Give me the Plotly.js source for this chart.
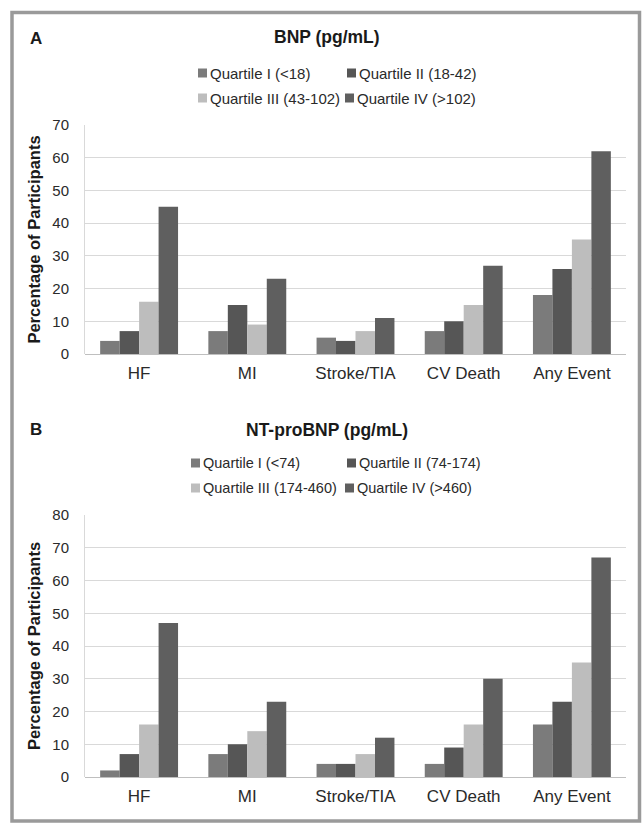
<!DOCTYPE html>
<html><head><meta charset="utf-8">
<script src="https://cdn.plot.ly/plotly-3.0.1.min.js"></script>
<style>html,body{margin:0;padding:0;background:#fff}#chart{width:643px;height:823px}</style>
</head><body><div id="chart"></div>
<script>
// ---- data ----
const categories = ['HF', 'MI', 'Stroke/TIA', 'CV Death', 'Any Event'];
const bnpQ1 = [4, 7, 5, 7, 18];
const bnpQ2 = [7, 15, 4, 10, 26];
const bnpQ3 = [16, 9, 7, 15, 35];
const bnpQ4 = [45, 23, 11, 27, 62];
const ntQ1 = [2, 7, 4, 4, 16];
const ntQ2 = [7, 10, 4, 9, 23];
const ntQ3 = [16, 14, 7, 16, 35];
const ntQ4 = [47, 23, 12, 30, 67];
const bnpLabels = ['Quartile I (<18)', 'Quartile II (18-42)', 'Quartile III (43-102)', 'Quartile IV (>102)'];
const ntLabels = ['Quartile I (<74)', 'Quartile II (74-174)', 'Quartile III (174-460)', 'Quartile IV (>460)'];
const yTicksA = [0, 10, 20, 30, 40, 50, 60, 70];
const yTicksB = [0, 10, 20, 30, 40, 50, 60, 70, 80];
const titleA = 'BNP (pg/mL)';
const titleB = 'NT-proBNP (pg/mL)';
const yTitle = 'Percentage of Participants';

// ---- styling ----
const colors = ['#7b7b7b', '#565656', '#bdbdbd', '#5f5f5f'];
const FONT = "'Liberation Sans', Arial, sans-serif";
const W = 643, H = 823;
const px = x => x / W;
const py = y => 1 - y / H;

const seriesA = [bnpQ1, bnpQ2, bnpQ3, bnpQ4];
const seriesB = [ntQ1, ntQ2, ntQ3, ntQ4];
const traces = [];
seriesA.forEach((vals, i) => traces.push({
  type: 'bar', x: categories, y: vals, name: bnpLabels[i], xaxis: 'x', yaxis: 'y',
  marker: {color: colors[i], line: {width: 0}}, showlegend: false, hoverinfo: 'skip'
}));
seriesB.forEach((vals, i) => traces.push({
  type: 'bar', x: categories, y: vals, name: ntLabels[i], xaxis: 'x2', yaxis: 'y2',
  marker: {color: colors[i], line: {width: 0}}, showlegend: false, hoverinfo: 'skip'
}));

function xAxis(anchor) {
  return {
    domain: [px(85), px(626)], anchor: anchor, showgrid: false, zeroline: false, showline: false,
    ticks: '', tickfont: {family: FONT, size: 17, color: '#2a2a2a'}, ticklabelstandoff: 7, fixedrange: true
  };
}
function yAxis(anchor, top, bottom, maxv, ticks) {
  return {
    domain: [py(bottom), py(top)], anchor: anchor, range: [0, maxv], tickvals: ticks,
    showgrid: true, gridcolor: '#d9d9d9', gridwidth: 1,
    zeroline: true, zerolinecolor: '#bfbfbf', zerolinewidth: 1,
    showline: true, linecolor: '#d9d9d9', linewidth: 1, ticks: '',
    tickfont: {family: FONT, size: 15, color: '#2a2a2a'}, ticklabelstandoff: 12,
    title: {text: yTitle, font: {family: FONT, size: 16.5, color: '#1a1a1a', weight: 'bold'}, standoff: 7},
    fixedrange: true
  };
}

const shapes = [{
  type: 'rect', xref: 'paper', yref: 'paper',
  x0: px(12), x1: px(639.5), y0: py(12.5), y1: py(821),
  line: {color: '#9a9a9a', width: 3.5}, fillcolor: 'rgba(0,0,0,0)', layer: 'below'
}];
const annotations = [];
function addText(text, x, y, size, bold, anchor) {
  annotations.push({
    xref: 'paper', yref: 'paper', x: px(x), y: py(y), text: text, showarrow: false,
    xanchor: anchor || 'center', yanchor: 'middle',
    font: {family: FONT, size: size, color: '#1a1a1a', weight: bold ? 'bold' : 'normal'}
  });
}
addText('A', 36, 39, 17, true);
addText(titleA, 326.5, 37, 17.5, true);
addText('B', 36, 430, 17, true);
addText(titleB, 326.5, 430, 17.5, true);

// legends drawn as square swatches + labels
function addLegend(labels, pos, size) {
  labels.forEach((lab, i) => {
    const [x, y] = pos[i];
    shapes.push({
      type: 'rect', xref: 'paper', yref: 'paper',
      x0: px(x), x1: px(x + 9), y0: py(y + 4.5), y1: py(y - 4.5),
      line: {width: 0}, fillcolor: colors[i]
    });
    annotations.push({
      xref: 'paper', yref: 'paper', x: px(x + 10), y: py(y), text: lab, showarrow: false,
      xanchor: 'left', yanchor: 'middle',
      font: {family: FONT, size: size, color: '#2a2a2a'}
    });
  });
}
addLegend(bnpLabels, [[198, 73], [347, 73], [198, 98], [345, 98]], 15);
addLegend(ntLabels, [[191, 463], [347, 463], [191, 488], [345, 488]], 14.5);

const layout = {
  width: W, height: H, margin: {l: 0, r: 0, t: 0, b: 0},
  paper_bgcolor: '#ffffff', plot_bgcolor: '#ffffff',
  barmode: 'group', bargap: 0.28, bargroupgap: 0,
  showlegend: false,
  font: {family: FONT, color: '#2a2a2a'},
  xaxis: xAxis('y'),
  yaxis: yAxis('x', 125, 354, 70, yTicksA),
  xaxis2: xAxis('y2'),
  yaxis2: yAxis('x2', 515, 777, 80, yTicksB),
  shapes: shapes, annotations: annotations
};
Plotly.newPlot('chart', traces, layout, {staticPlot: true, displayModeBar: false});
</script>
</body></html>
